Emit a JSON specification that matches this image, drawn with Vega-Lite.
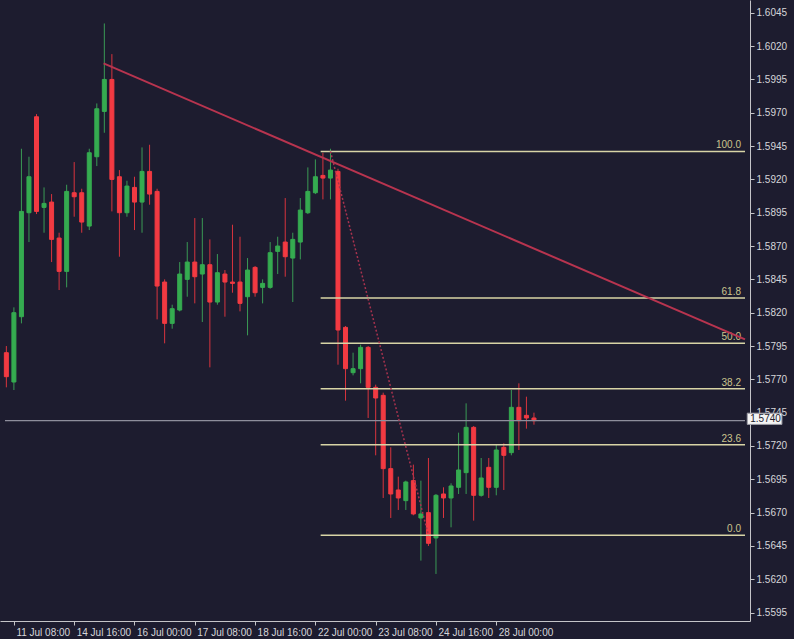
{
  "$schema": "https://vega.github.io/schema/vega-lite/v6.json",
  "width": 750,
  "height": 621,
  "autosize": {"type": "none"},
  "padding": {"left": 0, "top": 0, "right": 44, "bottom": 18},
  "background": "#1d1c2f",
  "config": {
    "view": {"stroke": null},
    "axis": {
      "grid": false,
      "domainColor": "#c4c4c8",
      "tickColor": "#c4c4c8",
      "labelColor": "#d6d6da",
      "labelFont": "Liberation Sans",
      "labelFontSize": 10,
      "tickSize": 4,
      "labelOverlap": false,
      "labelSeparation": 0,
      "labelFlush": false,
      "labelBound": false
    },
    "text": {"font": "Liberation Sans", "fontSize": 10}
  },
  "datasets": {
    "candles": [
      {"i": -1, "o": 1.5790, "h": 1.5795, "l": 1.5764, "c": 1.5772},
      {"i": 0, "o": 1.5768, "h": 1.5824, "l": 1.5762, "c": 1.5820},
      {"i": 1, "o": 1.5817, "h": 1.5943, "l": 1.5812, "c": 1.5896},
      {"i": 2, "o": 1.5895, "h": 1.5937, "l": 1.5873, "c": 1.5922},
      {"i": 3, "o": 1.5967, "h": 1.5969, "l": 1.5894, "c": 1.5896},
      {"i": 4, "o": 1.5899, "h": 1.5914, "l": 1.5880, "c": 1.5902},
      {"i": 5, "o": 1.5903, "h": 1.5909, "l": 1.5858, "c": 1.5875},
      {"i": 6, "o": 1.5876, "h": 1.5880, "l": 1.5837, "c": 1.5851},
      {"i": 7, "o": 1.5851, "h": 1.5916, "l": 1.5839, "c": 1.5911},
      {"i": 8, "o": 1.5910, "h": 1.5933, "l": 1.5892, "c": 1.5907},
      {"i": 9, "o": 1.5910, "h": 1.5913, "l": 1.5880, "c": 1.5888},
      {"i": 10, "o": 1.5885, "h": 1.5943, "l": 1.5882, "c": 1.5940},
      {"i": 11, "o": 1.5937, "h": 1.5977, "l": 1.5930, "c": 1.5973},
      {"i": 12, "o": 1.5971, "h": 1.6037, "l": 1.5955, "c": 1.5995},
      {"i": 13, "o": 1.5995, "h": 1.6014, "l": 1.5896, "c": 1.5920},
      {"i": 14, "o": 1.5922, "h": 1.5927, "l": 1.5862, "c": 1.5895},
      {"i": 15, "o": 1.5895, "h": 1.5919, "l": 1.5892, "c": 1.5915},
      {"i": 16, "o": 1.5914, "h": 1.5922, "l": 1.5882, "c": 1.5903},
      {"i": 17, "o": 1.5903, "h": 1.5944, "l": 1.5880, "c": 1.5926},
      {"i": 18, "o": 1.5926, "h": 1.5946, "l": 1.5901, "c": 1.5909},
      {"i": 19, "o": 1.5911, "h": 1.5913, "l": 1.5815, "c": 1.5840},
      {"i": 20, "o": 1.5843, "h": 1.5845, "l": 1.5797, "c": 1.5812},
      {"i": 21, "o": 1.5812, "h": 1.5826, "l": 1.5808, "c": 1.5823},
      {"i": 22, "o": 1.5822, "h": 1.5858, "l": 1.5821, "c": 1.5849},
      {"i": 23, "o": 1.5845, "h": 1.5873, "l": 1.5832, "c": 1.5858},
      {"i": 24, "o": 1.5858, "h": 1.5891, "l": 1.5827, "c": 1.5847},
      {"i": 25, "o": 1.5849, "h": 1.5891, "l": 1.5813, "c": 1.5856},
      {"i": 26, "o": 1.5856, "h": 1.5875, "l": 1.5779, "c": 1.5828},
      {"i": 27, "o": 1.5828, "h": 1.5864, "l": 1.5826, "c": 1.5850},
      {"i": 28, "o": 1.5849, "h": 1.5852, "l": 1.5817, "c": 1.5843},
      {"i": 29, "o": 1.5843, "h": 1.5886, "l": 1.5835, "c": 1.5842},
      {"i": 30, "o": 1.5843, "h": 1.5877, "l": 1.5821, "c": 1.5827},
      {"i": 31, "o": 1.5832, "h": 1.5861, "l": 1.5803, "c": 1.5852},
      {"i": 32, "o": 1.5854, "h": 1.5855, "l": 1.5832, "c": 1.5835},
      {"i": 33, "o": 1.5839, "h": 1.5845, "l": 1.5827, "c": 1.5842},
      {"i": 34, "o": 1.5839, "h": 1.5873, "l": 1.5838, "c": 1.5865},
      {"i": 35, "o": 1.5866, "h": 1.5877, "l": 1.5849, "c": 1.5870},
      {"i": 36, "o": 1.5873, "h": 1.5906, "l": 1.5847, "c": 1.5862},
      {"i": 37, "o": 1.5861, "h": 1.5880, "l": 1.5828, "c": 1.5875},
      {"i": 38, "o": 1.5873, "h": 1.5906, "l": 1.5860, "c": 1.5897},
      {"i": 39, "o": 1.5895, "h": 1.5929, "l": 1.5894, "c": 1.5911},
      {"i": 40, "o": 1.5910, "h": 1.5935, "l": 1.5909, "c": 1.5922},
      {"i": 41, "o": 1.5923, "h": 1.5940, "l": 1.5905, "c": 1.5921},
      {"i": 42, "o": 1.5921, "h": 1.5943, "l": 1.5905, "c": 1.5927},
      {"i": 43, "o": 1.5926, "h": 1.5928, "l": 1.5781, "c": 1.5807},
      {"i": 44, "o": 1.5809, "h": 1.5810, "l": 1.5754, "c": 1.5778},
      {"i": 45, "o": 1.5775, "h": 1.5790, "l": 1.5773, "c": 1.5778},
      {"i": 46, "o": 1.5778, "h": 1.5796, "l": 1.5767, "c": 1.5794},
      {"i": 47, "o": 1.5794, "h": 1.5795, "l": 1.5741, "c": 1.5764},
      {"i": 48, "o": 1.5764, "h": 1.5766, "l": 1.5713, "c": 1.5756},
      {"i": 49, "o": 1.5758, "h": 1.5760, "l": 1.5681, "c": 1.5703},
      {"i": 50, "o": 1.5703, "h": 1.5719, "l": 1.5666, "c": 1.5684},
      {"i": 51, "o": 1.5687, "h": 1.5697, "l": 1.5672, "c": 1.5681},
      {"i": 52, "o": 1.5679, "h": 1.5694, "l": 1.5672, "c": 1.5693},
      {"i": 53, "o": 1.5694, "h": 1.5706, "l": 1.5668, "c": 1.5669},
      {"i": 54, "o": 1.5666, "h": 1.5694, "l": 1.5634, "c": 1.5669},
      {"i": 55, "o": 1.5670, "h": 1.5711, "l": 1.5645, "c": 1.5647},
      {"i": 56, "o": 1.5651, "h": 1.5684, "l": 1.5624, "c": 1.5683},
      {"i": 57, "o": 1.5684, "h": 1.5689, "l": 1.5666, "c": 1.5681},
      {"i": 58, "o": 1.5681, "h": 1.5692, "l": 1.5659, "c": 1.5690},
      {"i": 59, "o": 1.5689, "h": 1.5730, "l": 1.5684, "c": 1.5702},
      {"i": 60, "o": 1.5700, "h": 1.5752, "l": 1.5684, "c": 1.5734},
      {"i": 61, "o": 1.5734, "h": 1.5735, "l": 1.5664, "c": 1.5683},
      {"i": 62, "o": 1.5683, "h": 1.5711, "l": 1.5682, "c": 1.5696},
      {"i": 63, "o": 1.5704, "h": 1.5711, "l": 1.5681, "c": 1.5689},
      {"i": 64, "o": 1.5689, "h": 1.5721, "l": 1.5683, "c": 1.5717},
      {"i": 65, "o": 1.5719, "h": 1.5722, "l": 1.5687, "c": 1.5713},
      {"i": 66, "o": 1.5715, "h": 1.5762, "l": 1.5713, "c": 1.5749},
      {"i": 67, "o": 1.5749, "h": 1.5767, "l": 1.5717, "c": 1.5739},
      {"i": 68, "o": 1.5743, "h": 1.5757, "l": 1.5733, "c": 1.5741},
      {"i": 69, "o": 1.5741, "h": 1.5745, "l": 1.5736, "c": 1.5739}
    ],
    "ticks": [
      {"p": 1.5595}, {"p": 1.5620}, {"p": 1.5645}, {"p": 1.5670}, {"p": 1.5695},
      {"p": 1.5720}, {"p": 1.5745}, {"p": 1.5770}, {"p": 1.5795}, {"p": 1.5820},
      {"p": 1.5845}, {"p": 1.5870}, {"p": 1.5895}, {"p": 1.5920}, {"p": 1.5945},
      {"p": 1.5970}, {"p": 1.5995}, {"p": 1.6020}, {"p": 1.6045}
    ],
    "levels": [
      {"level": "100.0", "p": 1.5941, "from": 40.7, "to": 97.0},
      {"level": "61.8", "p": 1.5831, "from": 40.7, "to": 97.0},
      {"level": "50.0", "p": 1.5797, "from": 40.7, "to": 97.0},
      {"level": "38.2", "p": 1.5763, "from": 40.7, "to": 97.0},
      {"level": "23.6", "p": 1.5721, "from": 40.7, "to": 97.0},
      {"level": "0.0", "p": 1.5653, "from": 40.7, "to": 97.0}
    ],
    "trend": [{"x1": 11.9, "p1": 1.6007, "x2": 97.0, "p2": 1.5800}],
    "anchor": [{"x1": 42, "p1": 1.5941, "x2": 55, "p2": 1.5653}],
    "bid": [{"from": -1.18, "to": 97.0, "p": 1.5739, "boxFrom": 97.3, "boxTo": 101.9, "boxLow": 1.57362, "boxHigh": 1.57446, "label": "1.5740"}]
  },
  "layer": [
    {
      "data": {"name": "candles"},
      "mark": {"type": "rule", "strokeWidth": 1, "clip": true},
      "encoding": {
        "x": {
          "field": "i", "type": "quantitative", "title": null,
          "scale": {"domain": [-1.18, 97.0], "nice": false, "zero": false},
          "axis": {
            "orient": "bottom",
            "values": [0, 8, 16, 24, 32, 40, 48, 56, 64],
            "labelExpr": "['11 Jul 08:00','14 Jul 16:00','16 Jul 00:00','17 Jul 08:00','18 Jul 16:00','22 Jul 00:00','23 Jul 08:00','24 Jul 16:00','28 Jul 00:00'][datum.value / 8]",
            "labelAlign": "left",
            "labelBaseline": "top",
            "labelOffset": 2,
            "labelPadding": 2,
            "labelOverlap": false
          }
        },
        "y": {
          "field": "l", "type": "quantitative", "title": null,
          "scale": {"domain": [1.55887, 1.60546], "nice": false, "zero": false},
          "axis": {
            "orient": "right",
            "values": [1.5595, 1.562, 1.5645, 1.567, 1.5695, 1.572, 1.5745, 1.577, 1.5795, 1.582, 1.5845, 1.587, 1.5895, 1.592, 1.5945, 1.597, 1.5995, 1.602, 1.6045],
            "format": ".4f",
            "labelAlign": "left",
            "labelBaseline": "middle",
            "labelPadding": 2,
            "labelOverlap": false,
            "labelSeparation": 0,
            "tickCount": 19
          }
        },
        "y2": {"field": "h"},
        "color": {"condition": {"test": "datum.c >= datum.o", "value": "#3a9a55"}, "value": "#d8343e"}
      }
    },
    {
      "data": {"name": "candles"},
      "mark": {"type": "bar", "size": 4, "strokeWidth": 1, "clip": true},
      "encoding": {
        "x": {"field": "i", "type": "quantitative", "title": null, "scale": {"domain": [-1.18, 97.0], "nice": false, "zero": false}},
        "y": {"field": "o", "type": "quantitative", "title": null, "scale": {"domain": [1.55887, 1.60546], "nice": false, "zero": false}},
        "y2": {"field": "c"},
        "fill": {"condition": {"test": "datum.c >= datum.o", "value": "#35ab50"}, "value": "#f23a42"},
        "stroke": {"condition": {"test": "datum.c >= datum.o", "value": "#35ab50"}, "value": "#f23a42"}
      }
    },
    {
      "data": {"name": "bid"},
      "mark": {"type": "rule", "color": "#8e8e9c", "strokeWidth": 1.2, "clip": true},
      "encoding": {
        "x": {"field": "from", "type": "quantitative", "title": null, "scale": {"domain": [-1.18, 97.0], "nice": false, "zero": false}},
        "x2": {"field": "to"},
        "y": {"field": "p", "type": "quantitative", "title": null, "scale": {"domain": [1.55887, 1.60546], "nice": false, "zero": false}}
      }
    },
    {
      "data": {"name": "levels"},
      "mark": {"type": "rule", "color": "#d8d4a6", "strokeWidth": 1.5, "clip": true},
      "encoding": {
        "x": {"field": "from", "type": "quantitative", "title": null, "scale": {"domain": [-1.18, 97.0], "nice": false, "zero": false}},
        "x2": {"field": "to"},
        "y": {"field": "p", "type": "quantitative", "title": null, "scale": {"domain": [1.55887, 1.60546], "nice": false, "zero": false}}
      }
    },
    {
      "data": {"name": "levels"},
      "mark": {"type": "text", "align": "right", "baseline": "bottom", "dx": -4, "dy": -1, "color": "#cbc48e"},
      "encoding": {
        "x": {"field": "to", "type": "quantitative", "title": null, "scale": {"domain": [-1.18, 97.0], "nice": false, "zero": false}},
        "y": {"field": "p", "type": "quantitative", "title": null, "scale": {"domain": [1.55887, 1.60546], "nice": false, "zero": false}},
        "text": {"field": "level"}
      }
    },
    {
      "data": {"name": "anchor"},
      "mark": {"type": "rule", "color": "#a8324e", "strokeWidth": 1.5, "strokeDash": [2, 2], "clip": true},
      "encoding": {
        "x": {"field": "x1", "type": "quantitative", "title": null, "scale": {"domain": [-1.18, 97.0], "nice": false, "zero": false}},
        "x2": {"field": "x2"},
        "y": {"field": "p1", "type": "quantitative", "title": null, "scale": {"domain": [1.55887, 1.60546], "nice": false, "zero": false}},
        "y2": {"field": "p2"}
      }
    },
    {
      "data": {"name": "trend"},
      "mark": {"type": "rule", "color": "#b8344f", "strokeWidth": 2, "clip": true},
      "encoding": {
        "x": {"field": "x1", "type": "quantitative", "title": null, "scale": {"domain": [-1.18, 97.0], "nice": false, "zero": false}},
        "x2": {"field": "x2"},
        "y": {"field": "p1", "type": "quantitative", "title": null, "scale": {"domain": [1.55887, 1.60546], "nice": false, "zero": false}},
        "y2": {"field": "p2"}
      }
    },
    {
      "data": {"name": "bid"},
      "mark": {"type": "rect", "fill": "#f4f4f4", "stroke": "#9a9aa4", "strokeWidth": 1, "clip": false},
      "encoding": {
        "x": {"field": "boxFrom", "type": "quantitative", "title": null, "scale": {"domain": [-1.18, 97.0], "nice": false, "zero": false}},
        "x2": {"field": "boxTo"},
        "y": {"field": "boxLow", "type": "quantitative", "title": null, "scale": {"domain": [1.55887, 1.60546], "nice": false, "zero": false}},
        "y2": {"field": "boxHigh"}
      }
    },
    {
      "data": {"name": "bid"},
      "mark": {"type": "text", "align": "left", "baseline": "middle", "dx": 3, "color": "#22222e", "clip": false},
      "encoding": {
        "x": {"field": "boxFrom", "type": "quantitative", "title": null, "scale": {"domain": [-1.18, 97.0], "nice": false, "zero": false}},
        "y": {"field": "boxHigh", "type": "quantitative", "title": null, "scale": {"domain": [1.55887, 1.60546], "nice": false, "zero": false}},
        "yOffset": {"value": 6},
        "text": {"field": "label"}
      }
    }
  ]
}
